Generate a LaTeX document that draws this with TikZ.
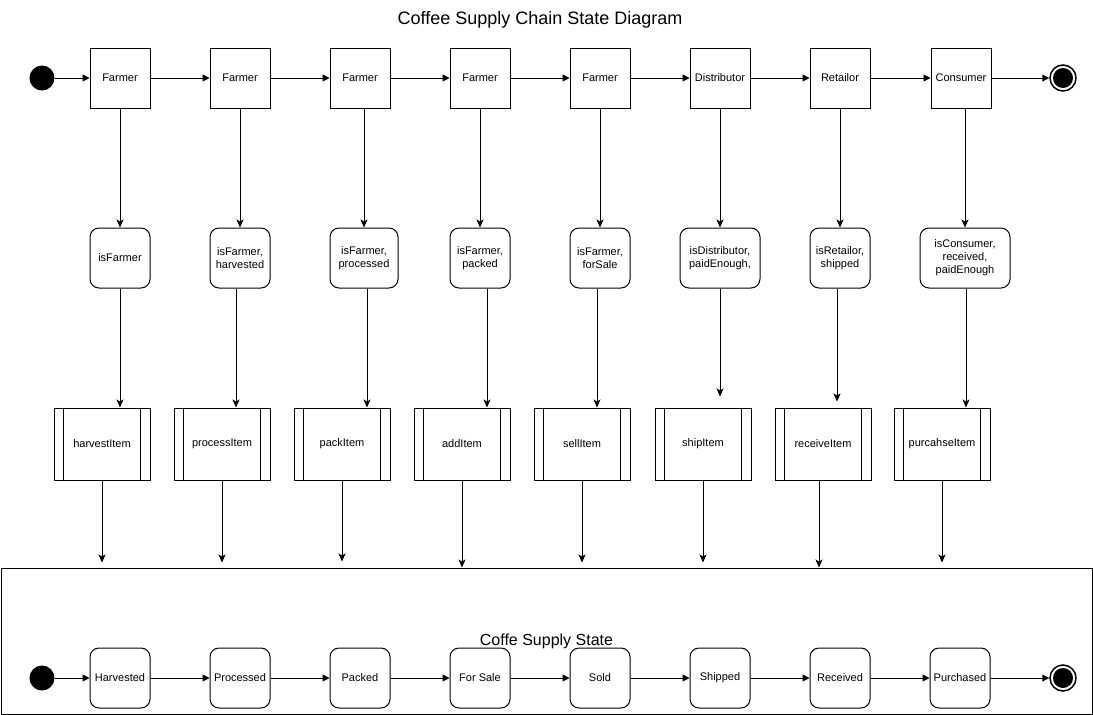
\documentclass[tikz,border=0pt]{standalone}
\usepackage{fontspec}
\setmainfont{Liberation Sans}
\usetikzlibrary{arrows.meta,positioning}

\newcommand\nodefont{\fontsize{11}{13}\selectfont}
\newcommand\headfont{\fontsize{18}{21}\selectfont}
\newcommand\boxfont{\fontsize{16}{19}\selectfont}

\begin{document}
\begin{tikzpicture}[x=1pt, y=-1pt, line width=1pt,
        actor/.style={draw, minimum width=60pt, minimum height=60pt, inner sep=1pt, font=\nodefont},
        guard/.style={draw, rounded corners=9pt, minimum height=60pt, inner sep=1pt, align=center, font=\nodefont},
        method/.style={draw, minimum width=96pt, minimum height=72pt, inner sep=1pt, font=\nodefont},
        state/.style={draw, rounded corners=9pt, minimum width=60pt, minimum height=60pt, inner sep=1pt, font=\nodefont},
        initial/.style={circle, fill=black, minimum size=25pt, inner sep=0pt},
        final/.style={circle, draw, line width=1.5pt, minimum size=26pt, inner sep=0pt},
        flow/.style={-{Triangle[length=7pt,width=7pt]}},
        down/.style={-{Stealth[length=8pt,width=7pt,inset=2pt]}}]
        \useasboundingbox (0,0) rectangle (1093,715);

        \node[font=\headfont] (title) at (540,20) {Coffee Supply Chain State Diagram};

        % actors
        \node[initial] (start) at (42,78) {};
        \foreach \i/\x/\t in {1/120/Farmer, 2/240/Farmer, 3/360/Farmer, 4/480/Farmer,
                5/600/Farmer, 6/720/Distributor, 7/840/Retailor, 8/961/Consumer}
                \node[actor] (s\i) at (\x,78) {\t};
        \node[final] (stop) at (1063,78) {};
        \fill (stop.center) circle [radius=10pt];

        % guards
        \foreach \i/\x/\w/\t in {1/120/60/isFarmer, 2/240/60/{isFarmer,\\harvested},
                3/364/68/{isFarmer,\\processed}, 4/480/60/{isFarmer,\\packed},
                5/600/60/{isFarmer,\\forSale}, 6/720/80/{isDistributor,\\paidEnough,},
                7/840/60/{isRetailor,\\shipped}, 8/965/90/{isConsumer,\\received,\\paidEnough}}
                \node[guard, minimum width=\w pt] (g\i) at (\x,258) {\t};

        % contract calls
        \foreach \i/\x/\t in {1/102/harvestItem, 2/222/processItem, 3/342/packItem, 4/462/addItem,
                5/582/sellItem, 6/703/shipItem, 7/823/receiveItem, 8/942/purcahseItem} {
                \node[method] (p\i) at (\x,444) {\t};
                \draw ([xshift=10pt]p\i.north west) -- ([xshift=10pt]p\i.south west);
                \draw ([xshift=-10pt]p\i.north east) -- ([xshift=-10pt]p\i.south east);
        }

        % item states
        \node[draw, minimum width=1091pt, minimum height=146pt, inner sep=0pt, font=\boxfont] (sup) at (546.5,641) {Coffe Supply State};
        \node[initial] (begin) at (42,678) {};
        \foreach \i/\x/\t in {1/120/Harvested, 2/240/Processed, 3/360/Packed, 4/480/For Sale,
                5/600/Sold, 6/720/Shipped, 7/840/Received, 8/960/Purchased}
                \node[state] (b\i) at (\x,678) {\t};
        \node[final] (end) at (1063,678) {};
        \fill (end.center) circle [radius=10pt];

        % connectors
        \draw[flow] (start) -- (s1);
        \draw[flow] (begin) -- (b1);
        \foreach \i/\j in {1/2, 2/3, 3/4, 4/5, 5/6, 6/7, 7/8} {
                \draw[flow] (s\i) -- (s\j);
                \draw[flow] (b\i) -- (b\j);
        }
        \draw[flow] (s8) -- (stop);
        \draw[flow] (b8) -- (end);
        \foreach \i in {1,...,8}
                \draw[down] (g\i.north |- s\i.south) -- (g\i.north);
        \foreach \i/\o/\e in {1/0/0, 2/-4/0, 3/3/0, 4/7/0, 5/-3/0, 6/0/11, 7/-3/6, 8/1/0}
                \draw[down, shorten >=\e pt] ([xshift=\o pt]g\i.south) -- ([xshift=\o pt]g\i.south |- p\i.north);
        \foreach \i/\o/\e in {1/0/5, 2/0/5, 3/0/6, 4/0/0, 5/0/5, 6/0/5, 7/-4/0, 8/0/5}
                \draw[down, shorten >=\e pt] ([xshift=\o pt]p\i.south) -- ([xshift=\o pt]p\i.south |- sup.north);
\end{tikzpicture}
\end{document}
